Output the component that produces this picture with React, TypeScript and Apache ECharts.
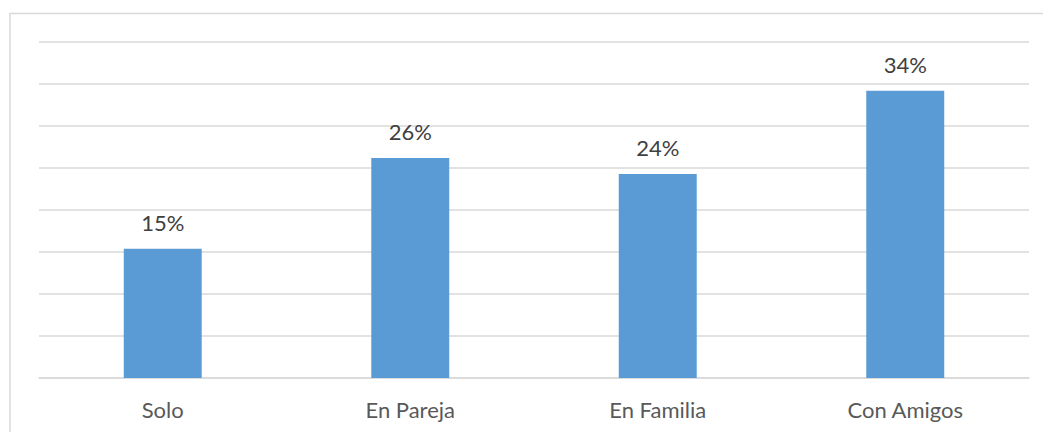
import React, { useEffect, useRef } from "react";
import * as echarts from "echarts";

const categories = ["Solo", "En Pareja", "En Familia", "Con Amigos"];
const values = [15.4, 26.2, 24.3, 34.2];
const yTicks = [0, 5, 10, 15, 20, 25, 30, 35, 40];

export default function App() {
  const ref = useRef<HTMLDivElement>(null);
  useEffect(() => {
    if (!ref.current) return;
    const chart = echarts.init(ref.current, null, { renderer: "svg" });
    chart.setOption({
      animation: false,
      backgroundColor: "#ffffff",
      textStyle: { fontFamily: "Lato" },
      graphic: [
        {
          type: "rect",
          shape: { x: 10, y: 13.5, width: 1100, height: 500 },
          style: { fill: "none", stroke: "#D9D9D9", lineWidth: 1.5 },
          silent: true,
        },
      ],
      grid: { left: 39, right: 14, top: 42, bottom: 54 },
      xAxis: {
        type: "category",
        data: categories,
        axisTick: { show: false },
        axisLine: { lineStyle: { color: "#D9D9D9", width: 1.5 } },
        axisLabel: { color: "#595959", fontSize: 22, margin: 20 },
      },
      yAxis: {
        type: "value",
        min: yTicks[0],
        max: yTicks[yTicks.length - 1],
        interval: 5,
        axisLabel: { show: false },
        axisLine: { show: false },
        axisTick: { show: false },
        splitLine: { lineStyle: { color: "#D9D9D9", width: 1.5 } },
      },
      series: [
        {
          type: "bar",
          data: values,
          barWidth: "31.5%",
          itemStyle: { color: "#5B9BD5" },
          label: {
            show: true,
            position: "top",
            distance: 15,
            color: "#404040",
            fontSize: 22,
            formatter: (p: any) => Math.round(p.value) + "%",
          },
        },
      ],
    });
    return () => chart.dispose();
  }, []);
  return (
    <div
      ref={ref}
      style={{ position: "fixed", left: 0, top: 0, width: 1043, height: 432 }}
    />
  );
}
